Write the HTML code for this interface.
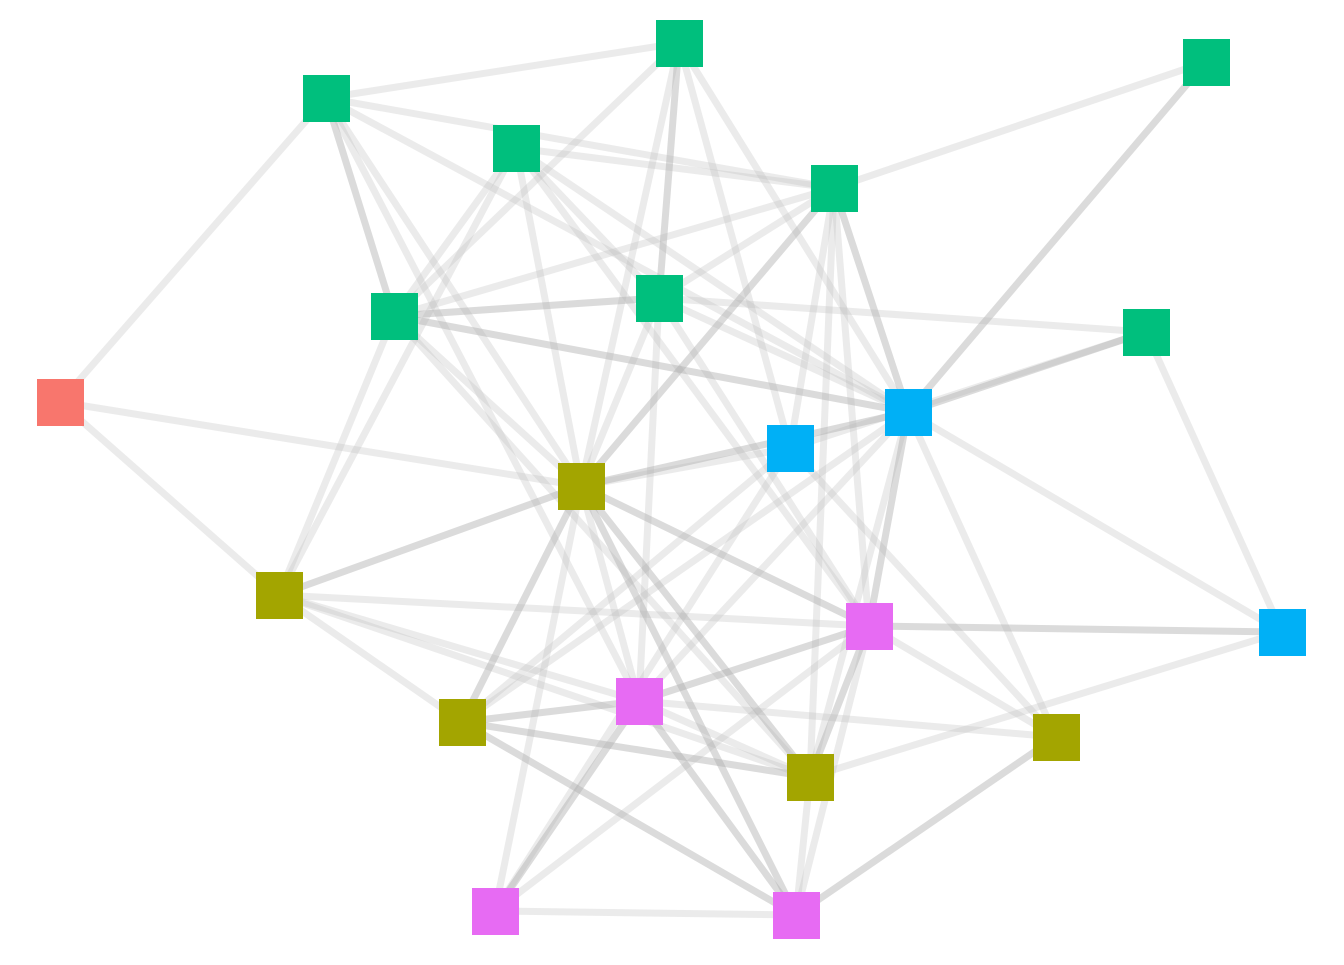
<!DOCTYPE html>
<html><head><style>html,body{margin:0;padding:0;background:#fff}</style></head>
<body>
<svg width="1344" height="960" xmlns="http://www.w3.org/2000/svg">
<g stroke="#bdbdbd" stroke-opacity="0.3" stroke-width="7" fill="none">
<line x1="60" y1="402" x2="326" y2="98"/>
<line x1="60" y1="402" x2="581" y2="486"/>
<line x1="60" y1="402" x2="279" y2="595"/>
<line x1="326" y1="98" x2="679" y2="43"/>
<line x1="326" y1="98" x2="834" y2="188"/>
<line x1="326" y1="98" x2="581" y2="486"/>
<line x1="326" y1="98" x2="908" y2="412"/>
<line x1="326" y1="98" x2="639" y2="701"/>
<line x1="679" y1="43" x2="394" y2="316"/>
<line x1="679" y1="43" x2="908" y2="412"/>
<line x1="679" y1="43" x2="790" y2="448"/>
<line x1="679" y1="43" x2="581" y2="486"/>
<line x1="1206" y1="62" x2="834" y2="188"/>
<line x1="516" y1="148" x2="834" y2="188"/>
<line x1="516" y1="148" x2="394" y2="316"/>
<line x1="516" y1="148" x2="581" y2="486"/>
<line x1="516" y1="148" x2="908" y2="412"/>
<line x1="516" y1="148" x2="869" y2="626"/>
<line x1="516" y1="148" x2="279" y2="595"/>
<line x1="516" y1="148" x2="659" y2="298"/>
<line x1="834" y1="188" x2="394" y2="316"/>
<line x1="834" y1="188" x2="659" y2="298"/>
<line x1="834" y1="188" x2="869" y2="626"/>
<line x1="834" y1="188" x2="810" y2="777"/>
<line x1="834" y1="188" x2="790" y2="448"/>
<line x1="394" y1="316" x2="581" y2="486"/>
<line x1="394" y1="316" x2="279" y2="595"/>
<line x1="394" y1="316" x2="810" y2="777"/>
<line x1="659" y1="298" x2="1146" y2="332"/>
<line x1="659" y1="298" x2="908" y2="412"/>
<line x1="659" y1="298" x2="639" y2="701"/>
<line x1="659" y1="298" x2="581" y2="486"/>
<line x1="659" y1="298" x2="869" y2="626"/>
<line x1="1146" y1="332" x2="1282" y2="632"/>
<line x1="1146" y1="332" x2="790" y2="448"/>
<line x1="908" y1="412" x2="1282" y2="632"/>
<line x1="908" y1="412" x2="1056" y2="737"/>
<line x1="908" y1="412" x2="462" y2="722"/>
<line x1="908" y1="412" x2="639" y2="701"/>
<line x1="908" y1="412" x2="810" y2="777"/>
<line x1="790" y1="448" x2="581" y2="486"/>
<line x1="790" y1="448" x2="462" y2="722"/>
<line x1="790" y1="448" x2="1056" y2="737"/>
<line x1="790" y1="448" x2="495" y2="911"/>
<line x1="581" y1="486" x2="639" y2="701"/>
<line x1="581" y1="486" x2="495" y2="911"/>
<line x1="279" y1="595" x2="869" y2="626"/>
<line x1="279" y1="595" x2="462" y2="722"/>
<line x1="279" y1="595" x2="639" y2="701"/>
<line x1="279" y1="595" x2="810" y2="777"/>
<line x1="869" y1="626" x2="1056" y2="737"/>
<line x1="869" y1="626" x2="495" y2="911"/>
<line x1="869" y1="626" x2="796" y2="915"/>
<line x1="639" y1="701" x2="1056" y2="737"/>
<line x1="639" y1="701" x2="810" y2="777"/>
<line x1="495" y1="911" x2="796" y2="915"/>
<line x1="810" y1="777" x2="1282" y2="632"/>
<line x1="810" y1="777" x2="796" y2="915"/>
</g>
<g stroke="#b0b0b0" stroke-opacity="0.45" stroke-width="7" fill="none">
<line x1="326" y1="98" x2="394" y2="316"/>
<line x1="679" y1="43" x2="659" y2="298"/>
<line x1="1206" y1="62" x2="908" y2="412"/>
<line x1="834" y1="188" x2="581" y2="486"/>
<line x1="834" y1="188" x2="908" y2="412"/>
<line x1="394" y1="316" x2="659" y2="298"/>
<line x1="394" y1="316" x2="908" y2="412"/>
<line x1="1146" y1="332" x2="908" y2="412"/>
<line x1="908" y1="412" x2="581" y2="486"/>
<line x1="908" y1="412" x2="869" y2="626"/>
<line x1="581" y1="486" x2="279" y2="595"/>
<line x1="581" y1="486" x2="462" y2="722"/>
<line x1="581" y1="486" x2="810" y2="777"/>
<line x1="581" y1="486" x2="796" y2="915"/>
<line x1="581" y1="486" x2="869" y2="626"/>
<line x1="462" y1="722" x2="639" y2="701"/>
<line x1="462" y1="722" x2="810" y2="777"/>
<line x1="462" y1="722" x2="796" y2="915"/>
<line x1="869" y1="626" x2="1282" y2="632"/>
<line x1="869" y1="626" x2="639" y2="701"/>
<line x1="869" y1="626" x2="810" y2="777"/>
<line x1="639" y1="701" x2="495" y2="911"/>
<line x1="639" y1="701" x2="796" y2="915"/>
<line x1="796" y1="915" x2="1056" y2="737"/>
</g>
<g>
<rect x="37" y="379" width="47" height="47" fill="#f8766d"/>
<rect x="303" y="75" width="47" height="47" fill="#00bf7d"/>
<rect x="656" y="20" width="47" height="47" fill="#00bf7d"/>
<rect x="1183" y="39" width="47" height="47" fill="#00bf7d"/>
<rect x="493" y="125" width="47" height="47" fill="#00bf7d"/>
<rect x="811" y="165" width="47" height="47" fill="#00bf7d"/>
<rect x="371" y="293" width="47" height="47" fill="#00bf7d"/>
<rect x="636" y="275" width="47" height="47" fill="#00bf7d"/>
<rect x="1123" y="309" width="47" height="47" fill="#00bf7d"/>
<rect x="885" y="389" width="47" height="47" fill="#00b0f6"/>
<rect x="767" y="425" width="47" height="47" fill="#00b0f6"/>
<rect x="1259" y="609" width="47" height="47" fill="#00b0f6"/>
<rect x="558" y="463" width="47" height="47" fill="#a3a500"/>
<rect x="256" y="572" width="47" height="47" fill="#a3a500"/>
<rect x="439" y="699" width="47" height="47" fill="#a3a500"/>
<rect x="787" y="754" width="47" height="47" fill="#a3a500"/>
<rect x="1033" y="714" width="47" height="47" fill="#a3a500"/>
<rect x="846" y="603" width="47" height="47" fill="#e76bf3"/>
<rect x="616" y="678" width="47" height="47" fill="#e76bf3"/>
<rect x="472" y="888" width="47" height="47" fill="#e76bf3"/>
<rect x="773" y="892" width="47" height="47" fill="#e76bf3"/>
</g>
</svg>
</body></html>
